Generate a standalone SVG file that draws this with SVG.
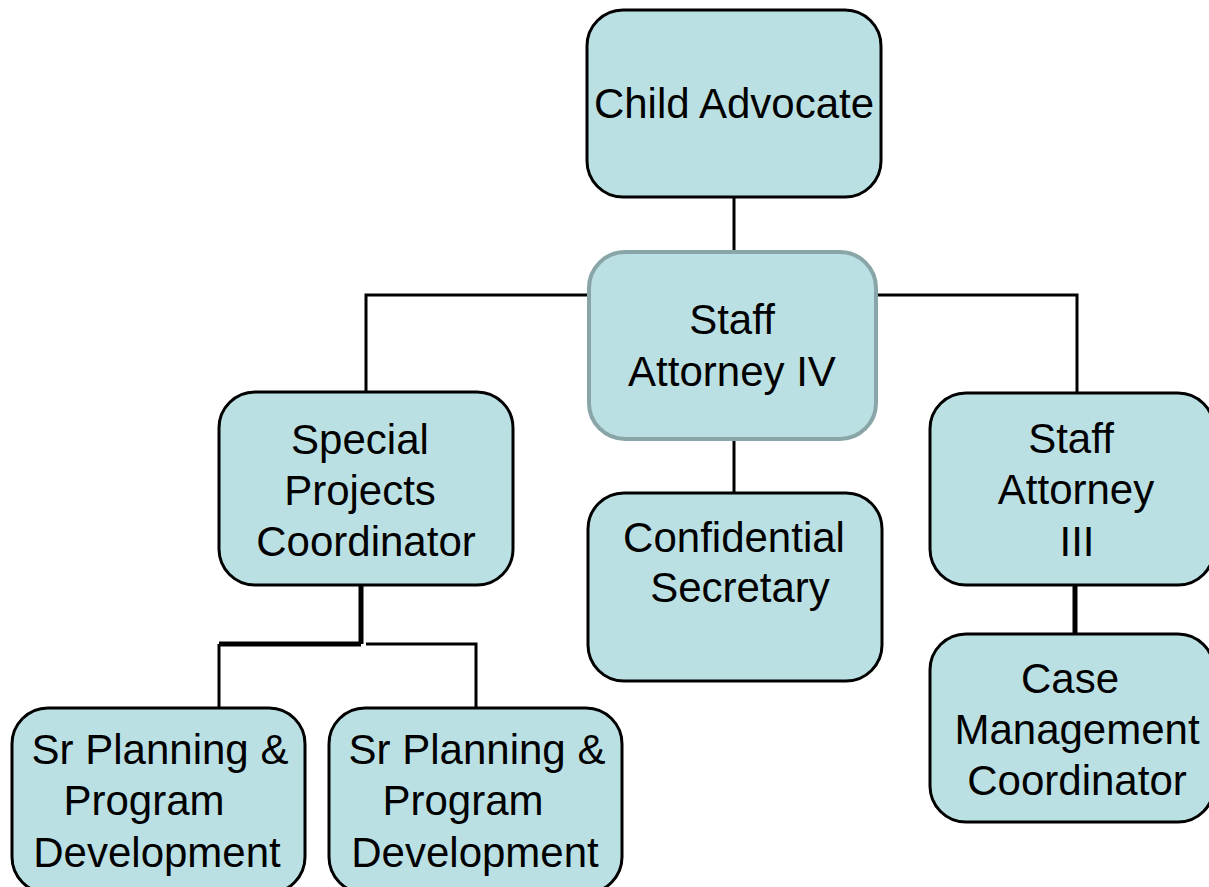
<svg xmlns="http://www.w3.org/2000/svg" width="1209" height="887" viewBox="0 0 1209 887">
<style>
.box{fill:#BBE0E3;stroke:#000;stroke-width:3}
.gray{stroke:#8AA5A8;stroke-width:4}
.t{font-family:"Liberation Sans",Arial,sans-serif;font-size:42px;fill:#000;text-anchor:middle}
.c{stroke:#000;stroke-width:3;fill:none}
.ct{stroke:#000;stroke-width:5;fill:none}
</style>
<rect width="1209" height="887" fill="#fff"/>
<g id="connectors">
<path class="c" d="M734 197V251"/>
<path class="c" d="M588 295H366V392"/>
<path class="c" d="M876 295H1077V393"/>
<path class="c" d="M734 439V493"/>
<path class="ct" d="M361 585V644"/>
<path class="ct" d="M361 644H219"/>
<path class="c" d="M219 644V708"/>
<path class="c" d="M366 644H476V708"/>
<path class="ct" d="M1075 585V634"/>
</g>
<g id="child-advocate">
<rect class="box" x="587" y="10" width="294" height="187" rx="36"/>
<text class="t" x="734" y="118">Child Advocate</text>
</g>
<g id="staff-attorney-iv">
<rect class="box gray" x="589" y="252" width="287" height="187" rx="36"/>
<text class="t" x="732" y="334">Staff</text>
<text class="t" x="732" y="386">Attorney IV</text>
</g>
<g id="special-projects">
<rect class="box" x="219" y="392" width="294" height="193" rx="36"/>
<text class="t" x="360" y="454">Special</text>
<text class="t" x="360" y="505">Projects</text>
<text class="t" x="366" y="556">Coordinator</text>
</g>
<g id="confidential-secretary">
<rect class="box" x="588" y="493" width="294" height="188" rx="36"/>
<text class="t" x="734" y="552">Confidential</text>
<text class="t" x="740" y="602">Secretary</text>
</g>
<g id="staff-attorney-iii">
<rect class="box" x="930" y="393" width="284" height="192" rx="36"/>
<text class="t" x="1071" y="453">Staff</text>
<text class="t" x="1076" y="504">Attorney</text>
<text class="t" x="1077" y="556">III</text>
</g>
<g id="case-management">
<rect class="box" x="930" y="634" width="284" height="188" rx="36"/>
<text class="t" x="1070" y="693">Case</text>
<text class="t" x="1077" y="744">Management</text>
<text class="t" x="1077" y="795">Coordinator</text>
</g>
<g id="sr-planning-1">
<rect class="box" x="12" y="708" width="293" height="185" rx="36"/>
<text class="t" x="160" y="764">Sr Planning &amp;</text>
<text class="t" x="144" y="815">Program</text>
<text class="t" x="157" y="867">Development</text>
</g>
<g id="sr-planning-2">
<rect class="box" x="329" y="708" width="293" height="185" rx="36"/>
<text class="t" x="477" y="764">Sr Planning &amp;</text>
<text class="t" x="463" y="815">Program</text>
<text class="t" x="475" y="867">Development</text>
</g>
</svg>
